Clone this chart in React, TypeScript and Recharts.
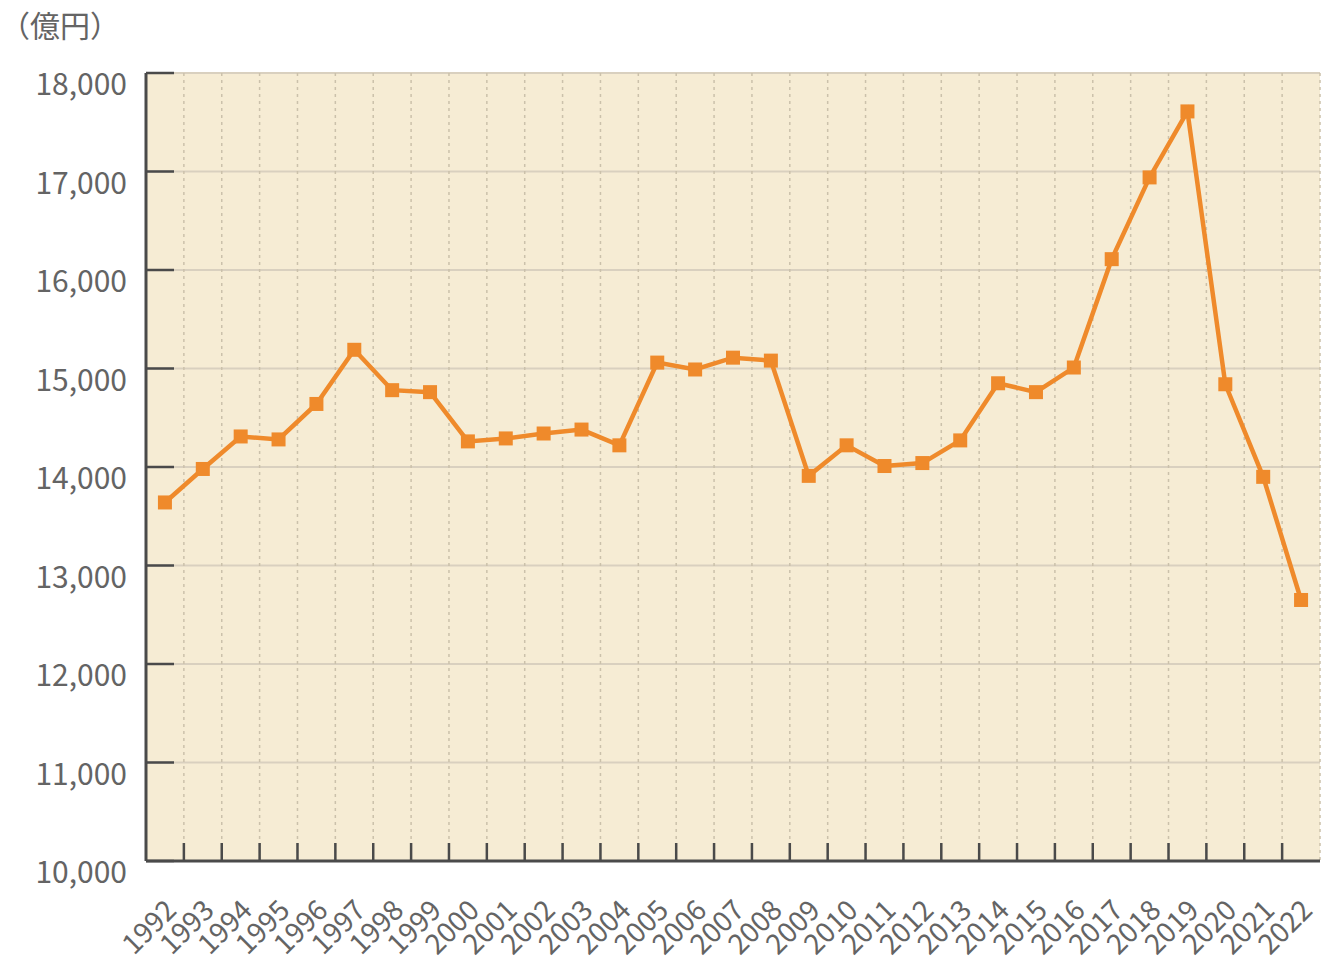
import { LineChart, Line, XAxis, YAxis, CartesianGrid } from 'recharts';

const years = [
  1992, 1993, 1994, 1995, 1996, 1997, 1998, 1999, 2000, 2001, 2002,
  2003, 2004, 2005, 2006, 2007, 2008, 2009, 2010, 2011, 2012, 2013,
  2014, 2015, 2016, 2017, 2018, 2019, 2020, 2021, 2022,
];

// 億円
const values = [
  13640, 13980, 14310, 14280, 14640, 15190, 14780, 14760, 14260, 14290, 14340,
  14380, 14220, 15060, 14990, 15110, 15080, 13910, 14220, 14010, 14040, 14270,
  14850, 14760, 15010, 16110, 16940, 17610, 14840, 13900, 12650,
];

const yTicks = [10000, 11000, 12000, 13000, 14000, 15000, 16000, 17000, 18000];

// tick marks / dotted lines sit between the years
const yearEdges = years.slice(1).map((y) => y - 0.5);

const data = years.map((year, i) => ({ year, value: values[i] }));

const textColor = '#646464';
const axisColor = '#4a4a4a';
const lineColor = '#ef8a2b';
const font = '"Noto Sans CJK JP", "Noto Sans", sans-serif';

const YTick = ({ x, y, payload }: any) => (
  <text x={x} y={y} dy={22} textAnchor="end" fill={textColor} fontSize={30} fontFamily={font}>
    {payload.value.toLocaleString('en-US')}
  </text>
);

const YearTick = ({ x, y, payload }: any) => (
  <text
    transform={`translate(${x + 13},${y + 51}) rotate(-45)`}
    textAnchor="end"
    fill={textColor}
    fontSize={28}
    fontFamily={font}
  >
    {payload.value}
  </text>
);

// tick-mark-only axes: no label
const NoLabel = () => <g />;

const SquareDot = ({ cx, cy }: any) => {
  if (cx == null || cy == null) return null;
  return <rect x={cx - 7} y={cy - 7} width={14} height={14} fill={lineColor} />;
};

export default function App() {
  return (
    <div style={{ position: 'absolute', left: 0, top: 0, width: 1321, height: 965, background: '#fff' }}>
      <div
        style={{
          position: 'absolute',
          left: 0,
          top: 4,
          fontSize: 30,
          color: textColor,
          fontFamily: font,
          lineHeight: '40px',
        }}
      >
        （億円）
      </div>
      <LineChart width={1321} height={965} data={data} margin={{ top: 73, right: 1, left: 0, bottom: 0 }}>
        <CartesianGrid
          xAxisId="year"
          yAxisId="val"
          vertical={false}
          fill="#f6ecd4"
          fillOpacity={1}
          stroke="#d9d0bf"
          strokeWidth={2}
        />
        <CartesianGrid
          xAxisId="edge"
          yAxisId="val"
          horizontal={false}
          stroke="#cbc1ab"
          strokeWidth={1.5}
          strokeDasharray="3 4"
        />
        <XAxis
          xAxisId="year"
          dataKey="year"
          type="number"
          domain={[1991.5, 2022.5]}
          ticks={years}
          interval={0}
          height={104}
          tickSize={0}
          tickMargin={0}
          tickLine={false}
          axisLine={{ stroke: axisColor, strokeWidth: 3 }}
          tick={<YearTick />}
        />
        <XAxis
          xAxisId="edge"
          dataKey="year"
          type="number"
          domain={[1991.5, 2022.5]}
          ticks={yearEdges}
          interval={0}
          mirror
          height={1}
          tickSize={18}
          tick={<NoLabel />}
          axisLine={false}
          tickLine={{ stroke: axisColor, strokeWidth: 2.5 }}
        />
        <YAxis
          yAxisId="val"
          type="number"
          domain={[10000, 18000]}
          ticks={yTicks}
          interval={0}
          width={146}
          tickSize={0}
          tickMargin={19}
          tickLine={false}
          axisLine={{ stroke: axisColor, strokeWidth: 3 }}
          tick={<YTick />}
        />
        <YAxis
          yAxisId="mark"
          type="number"
          domain={[10000, 18000]}
          ticks={yTicks}
          interval={0}
          mirror
          width={1}
          tickSize={28}
          tick={<NoLabel />}
          axisLine={false}
          tickLine={{ stroke: axisColor, strokeWidth: 2.5 }}
        />
        {/* invisible series so the tick-mark axes get a domain */}
        <Line
          xAxisId="edge"
          yAxisId="mark"
          dataKey="value"
          stroke="none"
          dot={false}
          activeDot={false}
          legendType="none"
          isAnimationActive={false}
        />
        <Line
          xAxisId="year"
          yAxisId="val"
          type="linear"
          dataKey="value"
          stroke={lineColor}
          strokeWidth={4.5}
          dot={<SquareDot />}
          activeDot={false}
          isAnimationActive={false}
        />
      </LineChart>
    </div>
  );
}
